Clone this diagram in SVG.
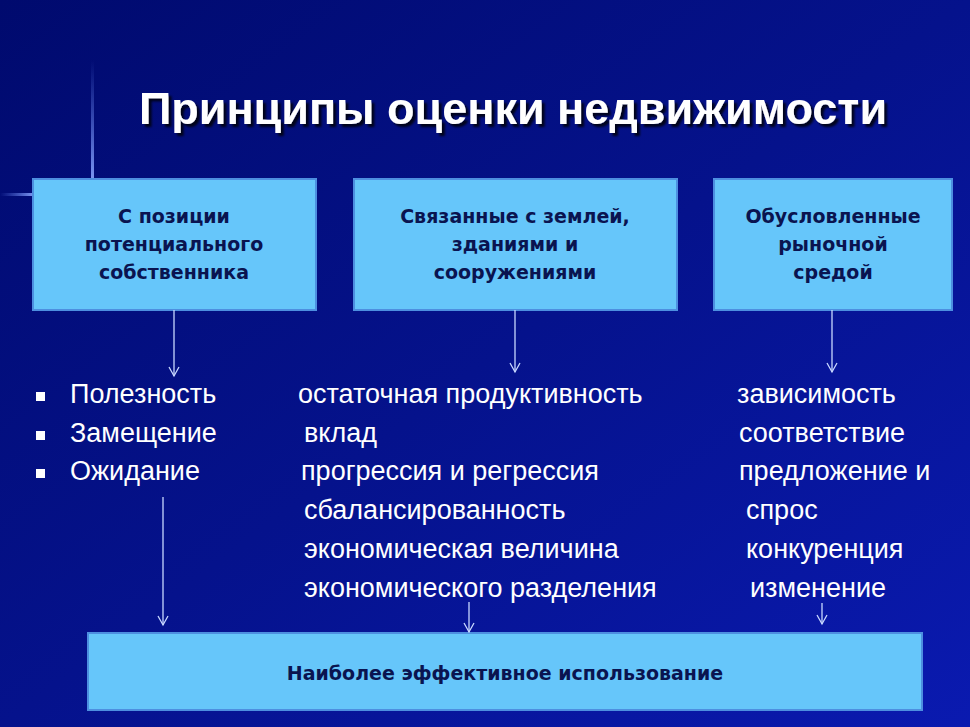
<svg xmlns="http://www.w3.org/2000/svg" width="970" height="727" viewBox="0 0 970 727">
<defs>
<linearGradient id="bg" x1="0" y1="0" x2="1" y2="1">
<stop offset="0" stop-color="#000a6e"/>
<stop offset="0.5" stop-color="#05128c"/>
<stop offset="1" stop-color="#0a1ab0"/>
</linearGradient>
<linearGradient id="vl" x1="0" y1="0" x2="0" y2="1">
<stop offset="0" stop-color="#5a78e8" stop-opacity="0"/>
<stop offset="1" stop-color="#7a94f0" stop-opacity="1"/>
</linearGradient>
<linearGradient id="hl" x1="0" y1="0" x2="1" y2="0">
<stop offset="0" stop-color="#5a78e8" stop-opacity="0"/>
<stop offset="1" stop-color="#7a94f0" stop-opacity="1"/>
</linearGradient>
<marker id="ah" markerWidth="12" markerHeight="12" refX="10" refY="6" orient="auto" markerUnits="userSpaceOnUse" viewBox="0 0 12 12">
<path d="M1,1 L10,6 L1,11" fill="none" stroke="#c8d8ff" stroke-width="1.3"/>
</marker>
<filter id="sh"><feDropShadow dx="3" dy="3" stdDeviation="1" flood-color="#000" flood-opacity="0.8"/></filter>
</defs>
<style>
.box{fill:#66c6fa;stroke:#4d8fe0;stroke-width:2}
.bt{font-family:"DejaVu Sans","Liberation Sans",sans-serif;font-weight:bold;font-size:19px;fill:#0a1450;text-anchor:middle}
.it{font-family:"Liberation Sans Narrow","Liberation Sans",Arial,sans-serif;font-size:27px;fill:#ffffff}
.con{stroke:#c8d8ff;stroke-width:1.3;fill:none;marker-end:url(#ah)}
</style>
<rect width="970" height="727" fill="url(#bg)"/>
<rect x="91" y="60" width="3" height="118" fill="url(#vl)"/>
<rect x="0" y="193" width="33" height="3" fill="url(#hl)"/>
<text x="513" y="124" text-anchor="middle" font-family="Liberation Sans,Arial,sans-serif" font-weight="bold" font-size="45" fill="#ffffff" filter="url(#sh)">Принципы оценки недвижимости</text>
<g id="n1"><rect class="box" x="33" y="179" width="283" height="131"/>
<text class="bt" x="174" y="223">С позиции</text><text class="bt" x="174" y="251">потенциального</text><text class="bt" x="174" y="279">собственника</text></g>
<g id="n2"><rect class="box" x="354" y="179" width="323" height="131"/>
<text class="bt" x="515" y="223">Связанные с землей,</text><text class="bt" x="515" y="251">зданиями и</text><text class="bt" x="515" y="279">сооружениями</text></g>
<g id="n3"><rect class="box" x="714" y="179" width="238" height="131"/>
<text class="bt" x="833" y="223">Обусловленные</text><text class="bt" x="833" y="251">рыночной</text><text class="bt" x="833" y="279">средой</text></g>
<g id="n4"><rect class="box" x="88" y="633" width="834" height="77"/>
<text class="bt" x="505" y="680">Наиболее эффективное использование</text></g>
<g id="list1">
<rect x="36" y="392" width="9" height="9" fill="#fff"/><rect x="36" y="431" width="9" height="9" fill="#fff"/><rect x="36" y="469" width="9" height="9" fill="#fff"/>
<text class="it" x="70" y="403">Полезность</text><text class="it" x="70" y="442">Замещение</text><text class="it" x="70" y="480">Ожидание</text></g>
<g id="list2">
<text class="it" x="298" y="403">остаточная продуктивность</text>
<text class="it" x="304" y="442">вклад</text>
<text class="it" x="301" y="480">прогрессия и регрессия</text>
<text class="it" x="304" y="519">сбалансированность</text>
<text class="it" x="304" y="558">экономическая величина</text>
<text class="it" x="304" y="597">экономического разделения</text></g>
<g id="list3">
<text class="it" x="737" y="403">зависимость</text>
<text class="it" x="739" y="442">соответствие</text>
<text class="it" x="739" y="480">предложение и</text>
<text class="it" x="746" y="519">спрос</text>
<text class="it" x="746" y="558">конкуренция</text>
<text class="it" x="750" y="597">изменение</text></g>
<g id="connectors">
<line class="con" x1="174" y1="310" x2="174" y2="376"/>
<line class="con" x1="515" y1="310" x2="515" y2="372"/>
<line class="con" x1="832" y1="310" x2="832" y2="372"/>
<line class="con" x1="163" y1="497" x2="163" y2="625"/>
<line class="con" x1="469" y1="602" x2="469" y2="632"/>
<line class="con" x1="822" y1="603" x2="822" y2="624"/>
</g>
</svg>
